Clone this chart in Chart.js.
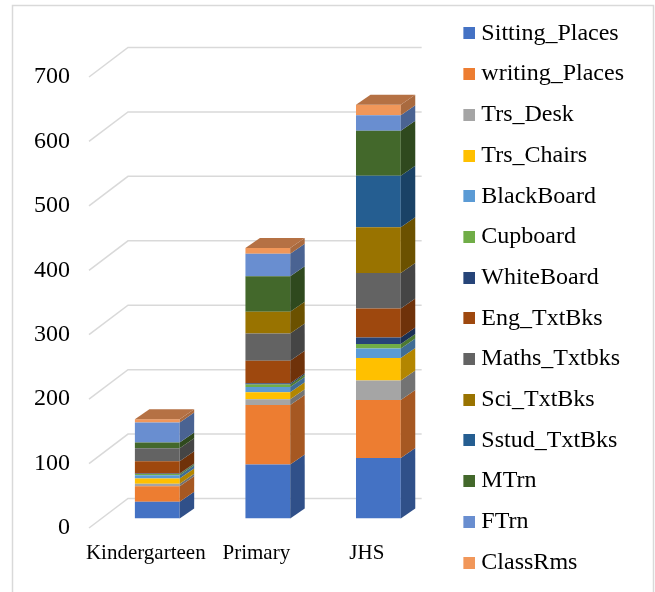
<!DOCTYPE html>
<html>
<head>
<meta charset="utf-8">
<script src="https://cdn.jsdelivr.net/npm/chart.js@4.4.1/dist/chart.umd.min.js"></script>
<style>
  html, body { margin: 0; padding: 0; background: #fff; }
  canvas { display: block; }
</style>
</head>
<body>
<canvas id="myChart" width="655" height="592"></canvas>
<script>
// school facilities per level
const categories = ['Kindergarteen', 'Primary', 'JHS'];

const sittingPlaces = [26, 84, 94];
const writingPlaces = [24, 92, 90];
const trsDesk = [4, 9, 30];
const trsChairs = [8, 11, 35];
const blackBoard = [5, 8, 15];
const cupboard = [2, 4, 7];
const whiteBoard = [1, 2, 10];
const engTxtBks = [19, 35, 45];
const mathsTxtbks = [20, 42, 55];
const sciTxtBks = [0, 34, 71];
const sstudTxtBks = [0, 0, 80];
const mTrn = [9, 55, 70];
const fTrn = [31, 35, 24];
const classRms = [5, 9, 16];

const yTicks = [0, 100, 200, 300, 400, 500, 600, 700];

const seriesNames = ['Sitting_Places', 'writing_Places', 'Trs_Desk', 'Trs_Chairs', 'BlackBoard',
    'Cupboard', 'WhiteBoard', 'Eng_TxtBks', 'Maths_Txtbks', 'Sci_TxtBks', 'Sstud_TxtBks',
    'MTrn', 'FTrn', 'ClassRms'];
const seriesData = [sittingPlaces, writingPlaces, trsDesk, trsChairs, blackBoard,
    cupboard, whiteBoard, engTxtBks, mathsTxtbks, sciTxtBks, sstudTxtBks,
    mTrn, fTrn, classRms];
const seriesColors = ['#4472C4', '#ED7D31', '#A5A5A5', '#FFC000', '#5B9BD5',
    '#70AD47', '#264478', '#9E480E', '#636363', '#997300', '#255E91',
    '#43682B', '#698ED0', '#F1975A'];

const serif = '"Liberation Serif", "Times New Roman", serif';
const lineGrey = '#d9d9d9';

// depth of the 3d bars and of the back wall
const depthX = 14.5, depthY = -10;
const wallBackX = 26, wallBackY = -20;
const wallFrontX = -13, wallFrontY = 9.5;

function shade(hex, f) {
    const n = parseInt(hex.slice(1), 16);
    const r = Math.round(((n >> 16) & 255) * f);
    const g = Math.round(((n >> 8) & 255) * f);
    const b = Math.round((n & 255) * f);
    return 'rgb(' + r + ',' + g + ',' + b + ')';
}

// legend square with a 6px gap before the text
function swatch(color) {
    const c = document.createElement('canvas');
    c.width = 31;
    c.height = 12;
    const g = c.getContext('2d');
    g.fillStyle = color;
    g.fillRect(19, 0, 12, 12);
    return c;
}

const wallPlugin = {
    id: 'wall',
    beforeDraw(chart) {
        const ctx = chart.ctx;
        ctx.save();
        ctx.fillStyle = '#fff';
        ctx.fillRect(0, 0, chart.width, chart.height);
        ctx.strokeStyle = lineGrey;
        ctx.lineWidth = 1.5;
        ctx.beginPath();
        ctx.moveTo(12.5, chart.height);
        ctx.lineTo(12.5, 5.5);
        ctx.lineTo(653.5, 5.5);
        ctx.lineTo(653.5, chart.height);
        ctx.stroke();
        ctx.restore();
    },
    beforeDatasetsDraw(chart) {
        const ctx = chart.ctx;
        const a = chart.chartArea;
        const y = chart.scales.y;
        ctx.save();
        ctx.strokeStyle = lineGrey;
        ctx.lineWidth = 1.5;
        ctx.fillStyle = '#000';
        ctx.font = '24px ' + serif;
        ctx.textAlign = 'right';
        ctx.textBaseline = 'middle';
        y.ticks.forEach(t => {
            const py = y.getPixelForValue(t.value);
            ctx.beginPath();
            ctx.moveTo(a.left + wallFrontX, py + wallFrontY);
            ctx.lineTo(a.left + wallBackX, py + wallBackY);
            ctx.lineTo(a.right - 12, py + wallBackY);
            ctx.stroke();
            // value labels sit on the front edge of the floor
            ctx.fillText(String(t.value), a.left - 32, py + wallFrontY);
        });
        ctx.restore();
    },
    afterDatasetsDraw(chart) {
        const ctx = chart.ctx;
        ctx.save();
        // right-hand side faces
        chart.data.datasets.forEach((ds, d) => {
            const meta = chart.getDatasetMeta(d);
            meta.data.forEach(el => {
                const p = el.getProps(['x', 'y', 'base', 'width'], true);
                if (p.base - p.y <= 0) return;
                const r = p.x + p.width / 2;
                ctx.fillStyle = shade(ds.backgroundColor, 0.7);
                ctx.beginPath();
                ctx.moveTo(r, p.y);
                ctx.lineTo(r + depthX, p.y + depthY);
                ctx.lineTo(r + depthX, p.base + depthY);
                ctx.lineTo(r, p.base);
                ctx.closePath();
                ctx.fill();
            });
        });
        // top face of each stack
        categories.forEach((c, i) => {
            let top = -1;
            chart.data.datasets.forEach((ds, d) => { if (ds.data[i] > 0) top = d; });
            if (top < 0) return;
            const p = chart.getDatasetMeta(top).data[i].getProps(['x', 'y', 'width'], true);
            const l = p.x - p.width / 2, r = p.x + p.width / 2;
            ctx.fillStyle = shade(chart.data.datasets[top].backgroundColor, 0.75);
            ctx.beginPath();
            ctx.moveTo(l, p.y);
            ctx.lineTo(l + depthX, p.y + depthY);
            ctx.lineTo(r + depthX, p.y + depthY);
            ctx.lineTo(r, p.y);
            ctx.closePath();
            ctx.fill();
        });
        ctx.restore();
    }
};

const ctx = document.getElementById('myChart');

const myChart = new Chart(ctx, {
    type: 'bar',
    data: {
        labels: categories,
        datasets: seriesNames.map((name, k) => ({
            label: name,
            data: seriesData[k],
            backgroundColor: seriesColors[k],
            borderWidth: 0,
            barPercentage: 0.405,
            categoryPercentage: 1
        }))
    },
    options: {
        responsive: false,
        animation: false,
        devicePixelRatio: 1,
        events: [],
        layout: {
            padding: { top: 4, right: 21, bottom: 0, left: 102 }
        },
        scales: {
            x: {
                stacked: true,
                grid: { display: false, drawTicks: false },
                border: { display: false },
                ticks: {
                    color: '#000',
                    font: { family: serif, size: 21 },
                    padding: 22,
                    labelOffset: -11.5,
                    autoSkip: false,
                    maxRotation: 0
                },
                afterFit: s => { s.height = 73.5; }
            },
            y: {
                display: false,
                stacked: true,
                min: 0,
                max: 700,
                afterBuildTicks: s => { s.ticks = yTicks.map(v => ({ value: v })); }
            }
        },
        plugins: {
            // empty title only reserves the space above the plot
            title: {
                display: true,
                text: '',
                font: { size: 10, lineHeight: 1 },
                padding: { top: 0, bottom: 53.5 }
            },
            tooltip: { enabled: false },
            legend: {
                position: 'right',
                labels: {
                    color: '#000',
                    font: { family: serif, size: 24 },
                    padding: 16.7,
                    usePointStyle: true,
                    pointStyleWidth: 19,
                    generateLabels(chart) {
                        const items = Chart.defaults.plugins.legend.labels.generateLabels(chart);
                        items.forEach(item => { item.pointStyle = swatch(item.fillStyle); });
                        return items;
                    }
                }
            }
        }
    },
    plugins: [wallPlugin]
});
</script>
</body>
</html>
